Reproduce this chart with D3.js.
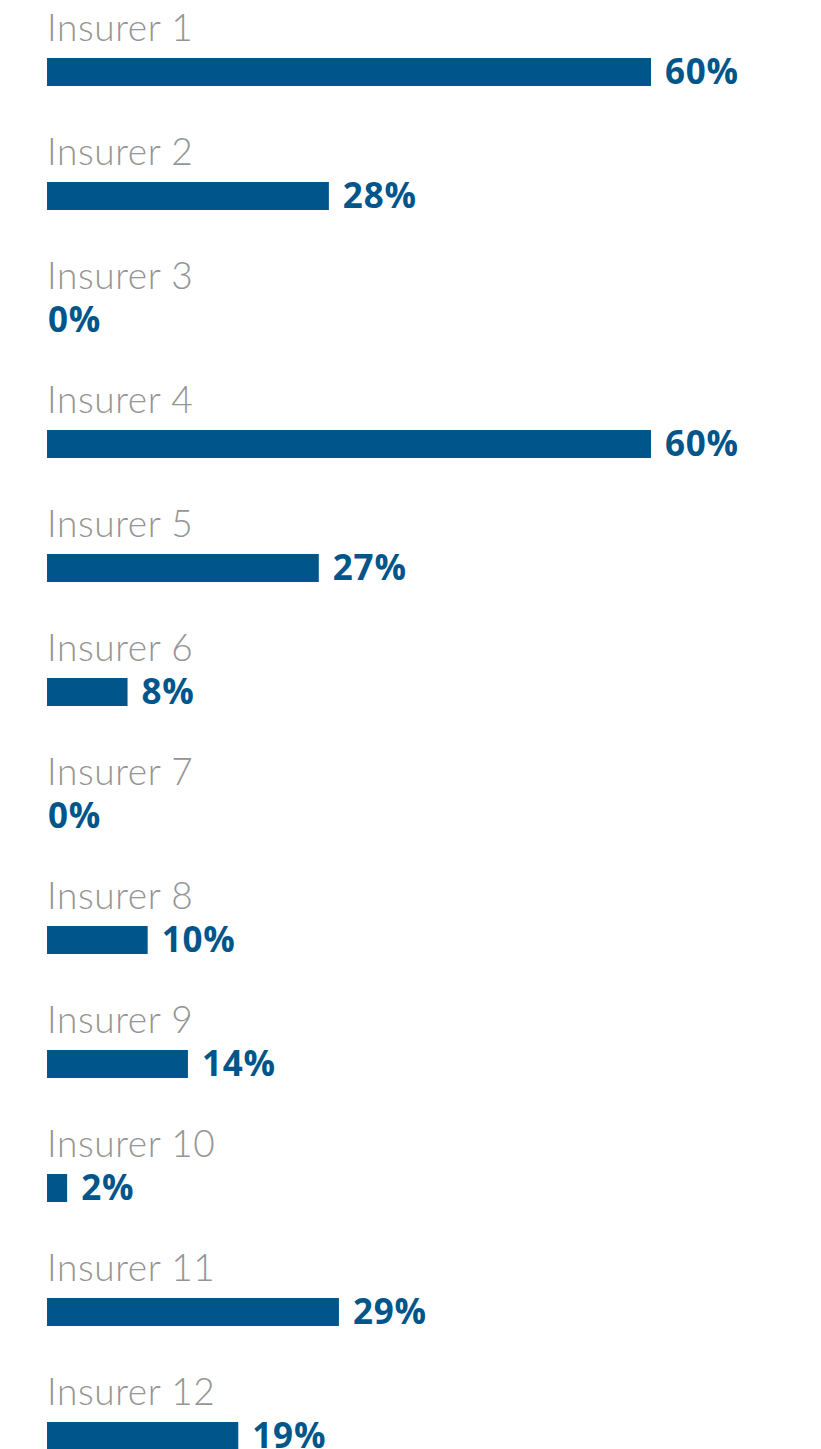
<!DOCTYPE html>
<html>
<head>
<meta charset="utf-8">
<script src="https://cdn.jsdelivr.net/npm/d3@7"></script>
<style>
  html, body { margin: 0; padding: 0; background: #ffffff; }
  svg { display: block; }
</style>
</head>
<body>
<div id="chart"></div>
<script>
// Share by insurer
const categories = ["Insurer 1", "Insurer 2", "Insurer 3", "Insurer 4", "Insurer 5", "Insurer 6",
                    "Insurer 7", "Insurer 8", "Insurer 9", "Insurer 10", "Insurer 11", "Insurer 12"];
const values = [60, 28, 0, 60, 27, 8, 0, 10, 14, 2, 29, 19];

const width = 821, height = 1449;
const left = 47, rowStep = 124, firstTop = 58, barH = 28;
const barColor = "#00568a", nameColor = "#959595";

const svg = d3.select("#chart").append("svg")
  .attr("width", width).attr("height", height);

const x = d3.scaleLinear().domain([0, 60]).range([0, 604]);
const y = d3.scaleBand().domain(categories)
  .range([firstTop, firstTop + rowStep * categories.length]).paddingInner(0).paddingOuter(0);

const rows = svg.selectAll("g.row").data(categories.map((c, i) => ({ c, v: values[i] })))
  .join("g").attr("class", "row")
  .attr("transform", d => `translate(0,${y(d.c)})`);

// category name above each bar
rows.append("text")
  .attr("x", left).attr("y", -17)
  .attr("font-family", "Lato, 'Open Sans', sans-serif")
  .attr("font-weight", 300)
  .attr("font-size", 37)
  .attr("letter-spacing", 0.6)
  .attr("fill", nameColor)
  .text(d => d.c);

rows.filter(d => d.v > 0).append("rect")
  .attr("x", left).attr("y", 0)
  .attr("width", d => x(d.v)).attr("height", barH)
  .attr("fill", barColor);

// value label right of the bar end
rows.append("text")
  .attr("x", d => left + (d.v > 0 ? x(d.v) + 14 : 1))
  .attr("y", 26)
  .attr("font-family", "'Open Sans', Lato, sans-serif")
  .attr("font-weight", 700)
  .attr("font-size", 35)
  .attr("letter-spacing", 0.8)
  .attr("fill", barColor)
  .text(d => d.v + "%");
</script>
</body>
</html>
